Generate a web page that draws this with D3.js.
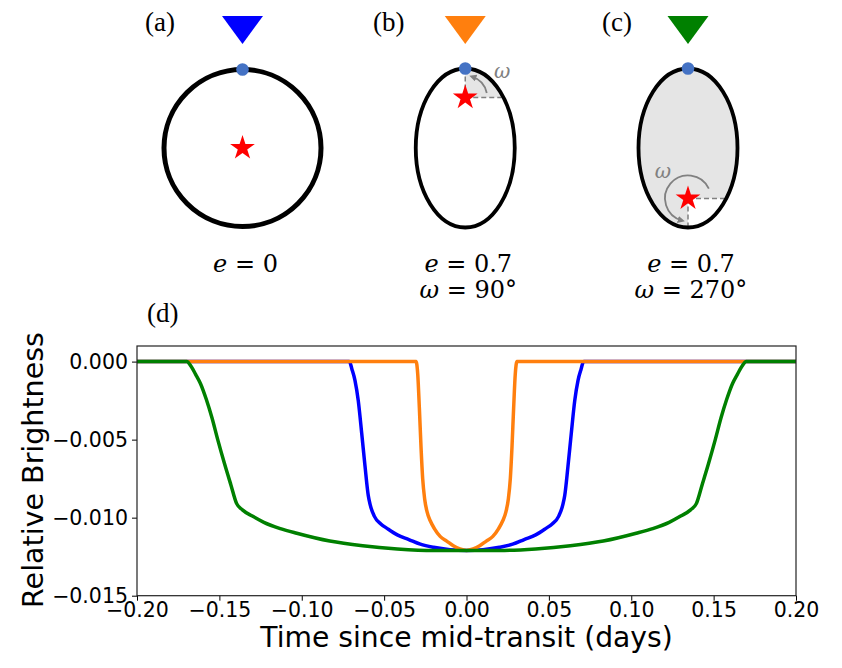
<!DOCTYPE html>
<html>
<head>
<meta charset="utf-8">
<script src="https://cdn.jsdelivr.net/npm/d3@7"></script>
<style>
  body { margin: 0; background: #fff; }
  svg { display: block; }
</style>
</head>
<body>
<script>
// Orbit sketches (a)-(c) and transit light curves (d)
var panelLabels = ['(a)', '(b)', '(c)'];
var eccentricities = [0, 0.7, 0.7];
var omegas = [null, 90, 270];
var transitColors = ['#0000ff', '#ff7f0e', '#008000'];

// light curves: [days, relative brightness]
var blueCurve = [
	[-0.200, 0], [-0.0711, 0], [-0.0695, -0.0005], [-0.0677, -0.0012], [-0.0657, -0.0025],
	[-0.0636, -0.0046], [-0.0616, -0.0067], [-0.0596, -0.0086], [-0.0584, -0.0092],
	[-0.0560, -0.0099], [-0.0520, -0.0104], [-0.0480, -0.0107], [-0.0420, -0.0111],
	[-0.0350, -0.0114], [-0.0280, -0.0117], [-0.0200, -0.0119], [-0.0100, -0.01205],
	[0, -0.0121],
	[0.0100, -0.01205], [0.0200, -0.0119], [0.0280, -0.0117], [0.0350, -0.0114],
	[0.0420, -0.0111], [0.0480, -0.0107], [0.0520, -0.0104], [0.0560, -0.0099],
	[0.0584, -0.0092], [0.0596, -0.0086], [0.0616, -0.0067], [0.0636, -0.0046],
	[0.0657, -0.0025], [0.0677, -0.0012], [0.0695, -0.0005], [0.0711, 0], [0.200, 0]
];
var orangeCurve = [
	[-0.200, 0], [-0.0306, 0], [-0.0296, -0.0008], [-0.0286, -0.0030], [-0.0276, -0.0055],
	[-0.0266, -0.0075], [-0.0254, -0.0088], [-0.0240, -0.0096], [-0.0220, -0.0102],
	[-0.0195, -0.0107], [-0.0160, -0.0112], [-0.0120, -0.0115], [-0.0080, -0.0118],
	[-0.0040, -0.0120], [0, -0.0121],
	[0.0040, -0.0120], [0.0080, -0.0118], [0.0120, -0.0115], [0.0160, -0.0112],
	[0.0195, -0.0107], [0.0220, -0.0102], [0.0240, -0.0096], [0.0254, -0.0088],
	[0.0266, -0.0075], [0.0276, -0.0055], [0.0286, -0.0030], [0.0296, -0.0008],
	[0.0306, 0], [0.200, 0]
];
var greenCurve = [
	[-0.200, 0], [-0.1698, 0], [-0.1672, -0.0003], [-0.1645, -0.0008], [-0.1615, -0.0014],
	[-0.1580, -0.0024], [-0.1545, -0.0036], [-0.1510, -0.0050], [-0.1470, -0.0065],
	[-0.1430, -0.0079], [-0.1395, -0.0091], [-0.1360, -0.0095], [-0.1300, -0.0099],
	[-0.1230, -0.0103], [-0.1130, -0.0107], [-0.1030, -0.0110], [-0.0830, -0.0115],
	[-0.0630, -0.0118], [-0.0420, -0.0120], [-0.0200, -0.0121], [0, -0.0121],
	[0.0200, -0.0121], [0.0420, -0.0120], [0.0630, -0.0118], [0.0830, -0.0115],
	[0.1030, -0.0110], [0.1130, -0.0107], [0.1230, -0.0103], [0.1300, -0.0099],
	[0.1360, -0.0095], [0.1395, -0.0091], [0.1430, -0.0079], [0.1470, -0.0065],
	[0.1510, -0.0050], [0.1545, -0.0036], [0.1580, -0.0024], [0.1615, -0.0014],
	[0.1645, -0.0008], [0.1672, -0.0003], [0.1698, 0], [0.200, 0]
];
var curves = [blueCurve, orangeCurve, greenCurve];

var xTicks = [-0.20, -0.15, -0.10, -0.05, 0.00, 0.05, 0.10, 0.15, 0.20];
var yTicks = [0, -0.005, -0.010, -0.015];

// sketch layout
var orbitRx = [78.5, 49.5, 49.5];
var orbitRy = [78.5, 79.5, 79.5];
var orbitStroke = [5, 3.8, 3.8];
var labelX = [145, 373, 602];
var omegaArc = [null, [12, 72, 22], [25, 255, 23]]; // from deg, to deg, radius
var omegaLabelOffset = [null, [37, -27], [-25, -27]];
var orbitCy = 148;
var grey = '#808080';

var svg = d3.select('body').append('svg')
	.attr('width', 842)
	.attr('height', 668);

var defs = svg.append('defs');
defs.append('marker')
	.attr('id', 'arrowhead')
	.attr('viewBox', '0 0 10 10')
	.attr('refX', 6)
	.attr('refY', 5)
	.attr('markerWidth', 4)
	.attr('markerHeight', 4)
	.attr('orient', 'auto')
	.append('path')
	.attr('d', 'M0,0 L10,5 L0,10 z')
	.style('fill', grey);

var panelX = d3.scalePoint().domain(panelLabels).range([242.5, 688]);

panelLabels.forEach(function (label, i) {
	var cx = panelX(label);
	var e = eccentricities[i];
	var w = omegas[i];
	var rx = orbitRx[i], ry = orbitRy[i];
	var starY = orbitCy - (w === null ? 0 : Math.sin(w * Math.PI / 180) * e * 72);
	var g = svg.append('g');

	// shaded wedge swept by omega, clipped to orbit
	if (w !== null) {
		var clipId = 'orbit-clip-' + i;
		defs.append('clipPath').attr('id', clipId)
			.append('ellipse')
			.attr('cx', cx).attr('cy', orbitCy).attr('rx', rx).attr('ry', ry);

		g.append('g')
			.attr('clip-path', 'url(#' + clipId + ')')
			.append('path')
			.attr('transform', 'translate(' + cx + ',' + starY + ')')
			.attr('d', d3.arc()({
				innerRadius: 0,
				outerRadius: 300,
				startAngle: Math.PI / 2 - w * Math.PI / 180,
				endAngle: Math.PI / 2
			}))
			.style('fill', '#e5e5e5');

		// dashed reference lines to the orbit
		var dy = (starY - orbitCy) / ry;
		var edgeX = cx + rx * Math.sqrt(1 - dy * dy);
		var edgeY = w === 90 ? orbitCy - ry : orbitCy + ry;
		g.append('line')
			.attr('x1', cx).attr('y1', starY).attr('x2', edgeX - 2).attr('y2', starY)
			.style('stroke', grey).style('stroke-width', 1.5).style('stroke-dasharray', '5,3');
		g.append('line')
			.attr('x1', cx).attr('y1', starY).attr('x2', cx).attr('y2', edgeY)
			.style('stroke', grey).style('stroke-width', 1.5).style('stroke-dasharray', '5,3');
	}

	g.append('ellipse')
		.attr('cx', cx).attr('cy', orbitCy).attr('rx', rx).attr('ry', ry)
		.style('fill', 'none')
		.style('stroke', '#000')
		.style('stroke-width', orbitStroke[i]);

	if (w !== null) {
		var a = omegaArc[i];
		var p = d3.path();
		p.arc(cx, starY, a[2], -a[0] * Math.PI / 180, -a[1] * Math.PI / 180, true);
		g.append('path')
			.attr('d', p.toString())
			.attr('marker-end', 'url(#arrowhead)')
			.style('fill', 'none')
			.style('stroke', grey)
			.style('stroke-width', 1.8);

		g.append('text')
			.attr('x', cx + omegaLabelOffset[i][0])
			.attr('y', starY + omegaLabelOffset[i][1])
			.attr('text-anchor', 'middle')
			.attr('dy', '0.35em')
			.text('ω')
			.style('font-family', 'DejaVu Serif')
			.style('font-style', 'italic')
			.style('font-size', '20px')
			.style('fill', grey);
	}

	// host star
	g.append('path')
		.attr('transform', 'translate(' + cx + ',' + starY + ')')
		.attr('d', d3.symbol(d3.symbolStar, 190)())
		.style('fill', '#ff0000');

	// planet at transit
	g.append('circle')
		.attr('cx', cx).attr('cy', orbitCy - ry).attr('r', 6.3)
		.style('fill', '#4472c4');

	// observer marker
	g.append('path')
		.attr('d', 'M' + (cx - 20.5) + ',16 L' + (cx + 20.5) + ',16 L' + cx + ',44 Z')
		.style('fill', transitColors[i]);

	g.append('text')
		.attr('x', labelX[i]).attr('y', 31)
		.text(label)
		.style('font-family', 'Liberation Serif')
		.style('font-size', '27px');

	var eq = g.append('text')
		.attr('x', cx + 3).attr('y', 272)
		.attr('text-anchor', 'middle')
		.style('font-family', 'DejaVu Serif')
		.style('font-size', '24px');
	eq.append('tspan').style('font-style', 'italic').text('e');
	eq.append('tspan').text(' = ' + e);

	if (w !== null) {
		var wq = g.append('text')
			.attr('x', cx + 3).attr('y', 298)
			.attr('text-anchor', 'middle')
			.style('font-family', 'DejaVu Serif')
			.style('font-size', '24px');
		wq.append('tspan').style('font-style', 'italic').text('ω');
		wq.append('tspan').text(' = ' + w + '°');
	}
});

// (d) light curves
var x = d3.scaleLinear().domain([-0.2, 0.2]).range([137, 796]);
var y = d3.scaleLinear().domain([-0.015, 0.001]).range([595.7, 346]);

svg.append('text')
	.attr('x', 147).attr('y', 322)
	.text('(d)')
	.style('font-family', 'Liberation Serif')
	.style('font-size', '27px');

var line = d3.line()
	.x(function (d) { return x(d[0]); })
	.y(function (d) { return y(d[1]); })
	.curve(d3.curveMonotoneX);

svg.append('defs').append('clipPath').attr('id', 'plot-clip')
	.append('rect')
	.attr('x', 137).attr('y', 346).attr('width', 659).attr('height', 249.7);

curves.forEach(function (c, i) {
	svg.append('path')
		.datum(c)
		.attr('d', line)
		.attr('clip-path', 'url(#plot-clip)')
		.style('fill', 'none')
		.style('stroke', transitColors[i])
		.style('stroke-width', 3.5)
		.style('stroke-linejoin', 'round');
});

var xAxis = svg.append('g')
	.attr('transform', 'translate(0,595.7)')
	.call(d3.axisBottom(x).tickValues(xTicks).tickFormat(d3.format('.2f')).tickSize(5).tickPadding(2));
var yAxis = svg.append('g')
	.attr('transform', 'translate(137,0)')
	.call(d3.axisLeft(y).tickValues(yTicks).tickFormat(d3.format('.3f')).tickSize(5).tickPadding(4));

[xAxis, yAxis].forEach(function (ax) {
	ax.select('.domain').remove();
	ax.selectAll('text')
		.style('font-family', 'DejaVu Sans')
		.style('font-size', '20.5px')
		.style('fill', '#000');
	ax.selectAll('line').style('stroke', '#000').style('stroke-width', 1);
});

svg.append('rect')
	.attr('x', 137).attr('y', 346).attr('width', 659).attr('height', 249.7)
	.style('fill', 'none')
	.style('stroke', '#222')
	.style('stroke-width', 1.2);

svg.append('text')
	.attr('x', 466.5).attr('y', 647)
	.attr('text-anchor', 'middle')
	.text('Time since mid-transit (days)')
	.style('font-family', 'DejaVu Sans')
	.style('font-size', '28.2px');

svg.append('text')
	.attr('transform', 'translate(43,470) rotate(-90)')
	.attr('text-anchor', 'middle')
	.text('Relative Brightness')
	.style('font-family', 'DejaVu Sans')
	.style('font-size', '28.5px');
</script>
</body>
</html>
